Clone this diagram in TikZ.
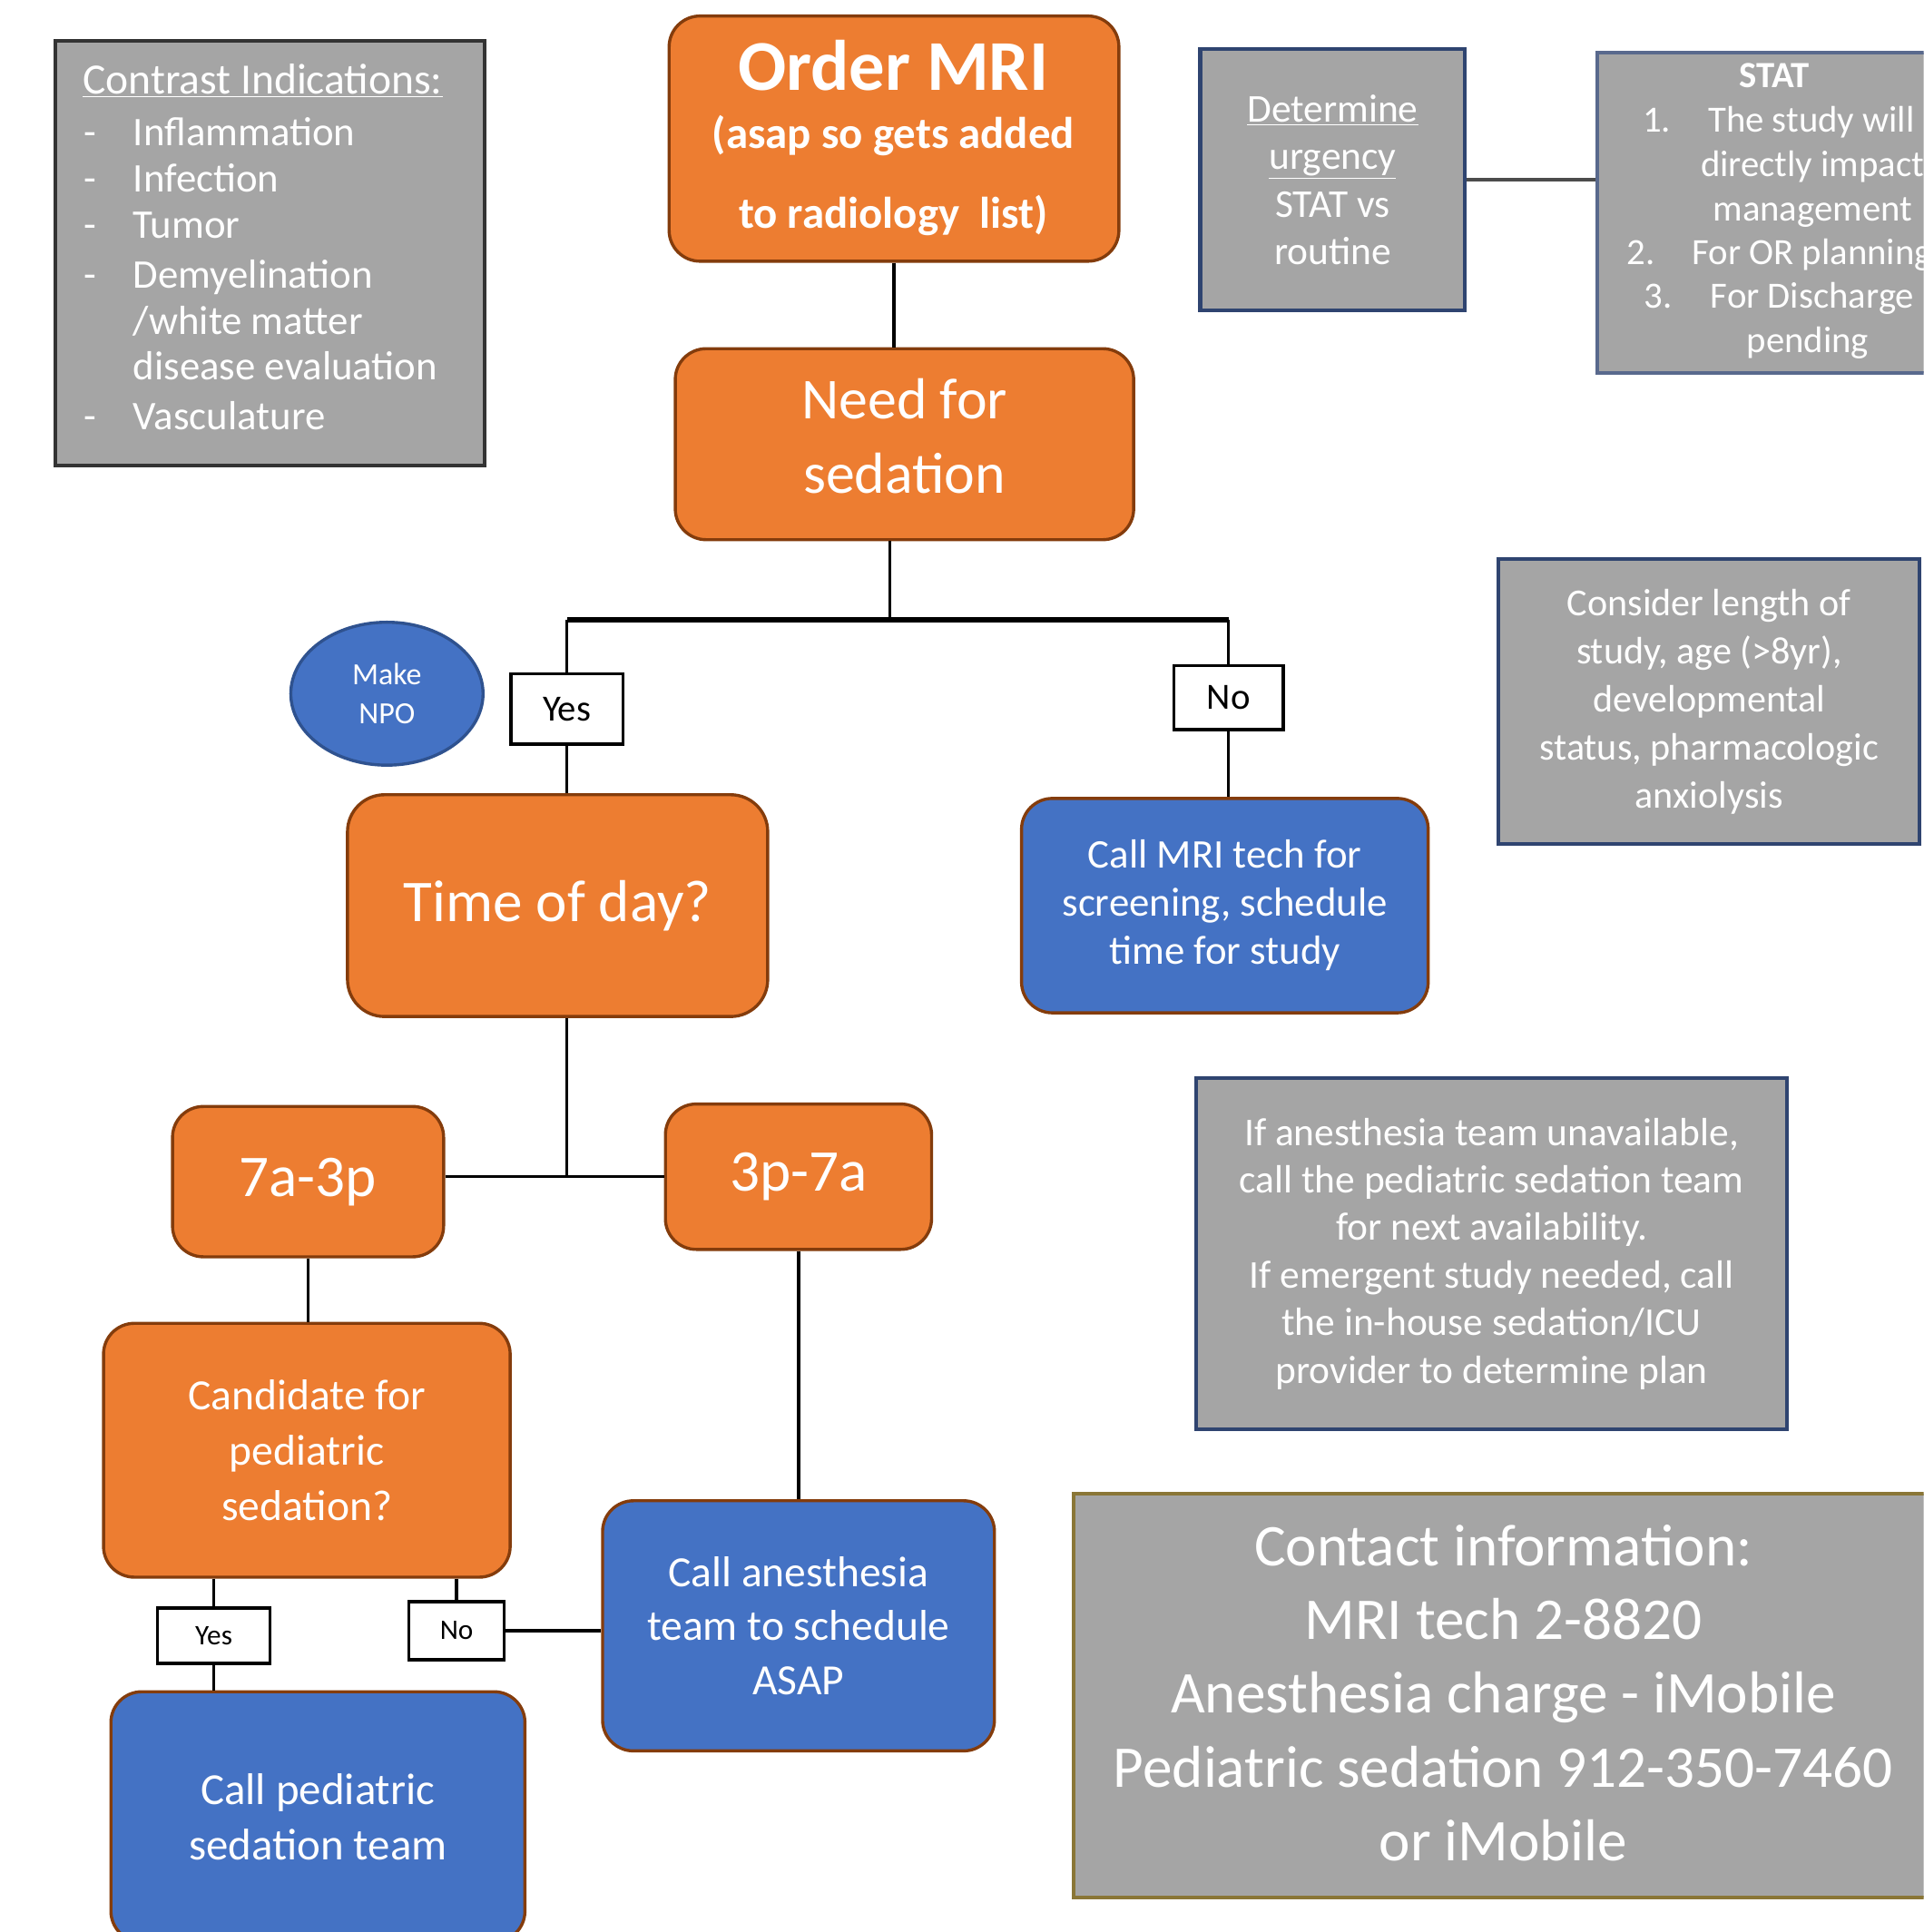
\documentclass[tikz,border=0pt]{standalone}
\usepackage{fontspec}
\setmainfont{Carlito}
\usetikzlibrary{shapes.geometric}
\definecolor{org}{HTML}{ED7D31}
\definecolor{orgb}{HTML}{843C0C}
\definecolor{blu}{HTML}{4472C4}
\definecolor{blub}{HTML}{2F528F}
\definecolor{gry}{HTML}{A5A5A5}
\definecolor{navy}{HTML}{2F4470}
\definecolor{olivb}{HTML}{8A7636}
\newcommand{\fsz}[2]{\fontsize{#1}{#2}\selectfont}
\begin{document}
\begin{tikzpicture}[x=1pt,y=-1pt,
  obox/.style={draw=orgb, line width=2.5pt, fill=org, rounded corners=25pt, text=white, align=center, inner sep=0pt},
  bbox/.style={draw=orgb, line width=2.5pt, fill=blu, rounded corners=25pt, text=white, align=center, inner sep=0pt},
  gbox/.style={draw=navy, line width=3pt, fill=gry, text=white, align=center, inner sep=0pt},
  lbl/.style={draw=black, line width=2.5pt, fill=white, inner sep=0pt, text=black},
  conn/.style={line width=2.5pt, draw=black},
  wtxt/.style={text=white, inner sep=0pt},
  stxt/.style={text=white, inner sep=0pt, font=\fsz{30}{36}, text height=21pt, text depth=7pt},
  ctxt/.style={text=white, inner sep=0pt, font=\fsz{33}{39}, text height=23pt, text depth=8pt}]
\useasboundingbox (0,0) rectangle (1561,1568);
\clip (0,0) rectangle (1561,1568);
\fill[white] (0,0) rectangle (1561,1568);

% contrast indications
\node[gbox, draw=black!80, minimum width=348pt, minimum height=345pt] (contr) at (219,205.5) {};
\node[ctxt, anchor=west, font=\fsz{35}{39}] (chead) at (67,69) {\underline{Contrast Indications:}};
\foreach \t/\yy [count=\i] in {Inflammation/111, Infection/148, Tumor/186, Demyelination/226, Vasculature/341}{
  \node[ctxt, anchor=west] (citem\i) at (108,\yy) {\t};
  \node[ctxt, anchor=west] (cdash\i) at (68,\yy) {-};
}
\node[ctxt, anchor=west] (cwm) at (108,264) {/white matter};
\node[ctxt, anchor=west] (cde) at (108,301) {disease evaluation};

% order MRI
\node[obox, minimum width=365pt, minimum height=199pt] (order) at (725.5,112.5) {};
\node[wtxt, font=\bfseries\fsz{58}{60}] (ot1) at (725,53) {Order MRI};
\node[wtxt, font=\bfseries\fsz{36}{40}] (ot2) at (725,110) {(asap so gets added};
\node[wtxt, font=\bfseries\fsz{36}{40}] (ot3) at (725,175) {to radiology\ \ list)};

\node[obox, minimum width=372pt, minimum height=155pt] (need) at (734,360.5) {};
\node[wtxt, align=center, font=\fsz{47}{60}] (needt) at (734,354) {Need for\\sedation};

\node[lbl, minimum width=91pt, minimum height=57pt, font=\fsz{30}{30}] (yes1) at (460,575.5) {Yes};
\node[lbl, minimum width=89pt, minimum height=52pt, font=\fsz{30}{30}] (no1) at (997,566) {No};
\node[ellipse, draw=blub, line width=2.5pt, fill=blu, text=white, align=center, inner sep=0pt,
      minimum width=156pt, minimum height=116pt, font=\fsz{25}{32}] (npo) at (314,563) {Make\\NPO};

\node[obox, minimum width=341pt, minimum height=180pt, font=\fsz{48}{55}, rounded corners=30pt] (tod) at (452.5,735) {Time of day?};
\node[bbox, minimum width=330pt, minimum height=174pt, font=\fsz{33}{39}] (mri) at (994,735) {Call MRI tech for\\screening, schedule\\time for study};

\node[obox, minimum width=220pt, minimum height=122pt, font=\fsz{48}{50}] (t73) at (250,959) {7a-3p};
\node[obox, minimum width=216pt, minimum height=118pt, font=\fsz{48}{50}] (t37) at (648,955) {3p-7a};

\node[obox, minimum width=330pt, minimum height=206pt, font=\fsz{35}{45}] (cand) at (249,1177) {Candidate for\\pediatric\\sedation?};
\node[lbl, minimum width=91pt, minimum height=45pt, font=\fsz{23}{23}] (yes2) at (173.5,1327.5) {Yes};
\node[lbl, minimum width=77pt, minimum height=47pt, font=\fsz{23}{23}] (no2) at (370.5,1323.5) {No};
\node[bbox, minimum width=318pt, minimum height=203pt, font=\fsz{35}{44}] (anes) at (648,1319.5) {Call anesthesia\\team to schedule\\ASAP};
\node[bbox, minimum width=336pt, minimum height=203pt, font=\fsz{36}{45}] (ped) at (258,1474.5) {Call pediatric\\sedation team};

% right side notes
\node[gbox, minimum width=215pt, minimum height=212pt, font=\fsz{32}{38.5}] (det) at (1081.5,146) {\underline{Determine}\\\underline{urgency}\\STAT vs\\routine};
\node[gbox, draw=navy!80, minimum width=324pt, minimum height=260pt] (stat) at (1458,173) {};
\node[stxt, font=\bfseries\fsz{30}{36}] (s0) at (1440,64) {STAT};
\node[stxt, anchor=west] (s1n) at (1333,100) {1.};
\node[stxt, anchor=west] (s1a) at (1386,100) {The study will};
\node[stxt, anchor=west] (s1b) at (1380,136) {directly impact};
\node[stxt] (s1c) at (1471,172) {management};
\node[stxt, anchor=west] (s2n) at (1320,208) {2.};
\node[stxt, anchor=west] (s2a) at (1373,208) {For OR planning};
\node[stxt, anchor=west] (s3n) at (1334,243) {3.};
\node[stxt, anchor=west] (s3a) at (1388,243) {For Discharge};
\node[stxt] (s3b) at (1467,279) {pending};

\node[gbox, minimum width=342pt, minimum height=231pt, font=\fsz{31}{39}] (cons) at (1387,569.5) {Consider length of\\study, age (>8yr),\\developmental\\status, pharmacologic\\anxiolysis};
\node[gbox, minimum width=479pt, minimum height=285pt, font=\fsz{32}{38.6}] (ifan) at (1210.5,1017.5) {If anesthesia team unavailable,\\call the pediatric sedation team\\for next availability.\\If emergent study needed, call\\the in-house sedation/ICU\\provider to determine plan};
\node[gbox, draw=olivb, minimum width=749pt, minimum height=328pt] (cont) at (1245.5,1376) {};
\node[wtxt, align=center, font=\fsz{48}{59.8}] (contt) at (1220,1374) {Contact information:\\MRI tech 2-8820\\Anesthesia charge - iMobile\\Pediatric sedation 912-350-7460\\or iMobile};

% connectors
\coordinate (br) at (722,503);
\draw[conn] (order.south) -- (order.south |- need.north);
\draw[conn] (need.south -| br) -- (br);
\draw[conn, line width=4pt] (yes1.north |- br) -- (no1.north |- br);
\draw[conn] (yes1.north |- br) -- (yes1.north);
\draw[conn] (no1.north |- br) -- (no1.north);
\draw[conn] (yes1.south) -- (yes1.south |- tod.north);
\draw[conn] (no1.south) -- (no1.south |- mri.north);
\coordinate (j) at (yes1.south |- t37.west);
\draw[conn] (yes1.south |- tod.south) -- (j);
\draw[conn] (t73.east |- j) -- (t37.west);
\draw[conn] (t73.south) -- (t73.south |- cand.north);
\draw[conn] (t37.south) -- (t37.south |- anes.north);
\draw[conn] (yes2.north |- cand.south) -- (yes2.north);
\draw[conn] (yes2.south) -- (yes2.south |- ped.north);
\draw[conn] (no2.north |- cand.south) -- (no2.north);
\draw[conn, line width=3pt] (no2.east) -- (no2.east -| anes.west);
\draw[conn, line width=3pt, draw=black!70] (det.east) -- (det.east -| stat.west);
\end{tikzpicture}
\end{document}
